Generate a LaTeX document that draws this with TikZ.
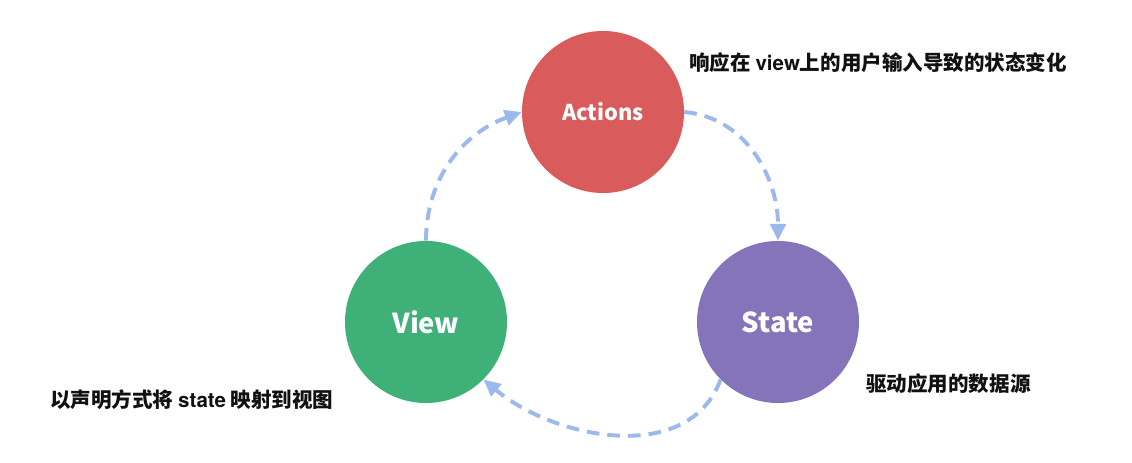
\documentclass[tikz,border=0pt]{standalone}
\usepackage{fontspec}
\setmainfont{Liberation Sans}
\newfontfamily\cjk{Noto Sans CJK SC}
\newfontfamily\arial{TeX Gyre Heros}
\usetikzlibrary{positioning,arrows.meta}
\definecolor{actred}{HTML}{D95B5C}
\definecolor{viewgreen}{HTML}{3EB078}
\definecolor{statepurple}{HTML}{8574BA}
\definecolor{flowblue}{HTML}{9CB9EE}
\definecolor{notetext}{HTML}{111111}

\begin{document}
\begin{tikzpicture}[x=0.025cm,y=0.025cm,
		circ/.style={circle,minimum size=4.05cm,inner sep=0pt,text=white,font=\cjk\bfseries},
		flow/.style={draw=flowblue,line width=2.8pt,dash pattern=on 9pt off 5.7pt,
			-{Triangle[length=12pt,width=11pt]}},
		note/.style={anchor=west,inner sep=0pt,text=notetext,font=\cjk\bfseries\fontsize{14.6}{16}\selectfont}
		]
		\useasboundingbox (0,0) rectangle (1132,462);
		% the three parts of the loop
		\node[circ,fill=actred,font=\cjk\bfseries\fontsize{15.5}{18}\selectfont] (actions) at (603,350) {Actions};
		\node[circ,fill=viewgreen,font=\cjk\bfseries\fontsize{19.5}{22}\selectfont] (view) at (426,140) {View};
		\node[circ,fill=statepurple,font=\cjk\bfseries\fontsize{19.5}{22}\selectfont] (state) at (778,140) {State};
		% notes
		\node[note] (actionsnote) at (689,399) {响应在 {\arial\bfseries view}上的用户输入导致的状态变化};
		\node[note] (statenote) at (866,78) {驱动应用的数据源};
		\node[note] (viewnote) at (50,62) {以声明方式将 {\arial\bfseries state} 映射到视图};
		% flow
		\draw[flow] (view.north) to[out=90,in=200] (actions.west);
		\draw[flow] (actions.east) to[out=-5,in=90] (state.north);
		\draw[flow] (state.225) to[out=-110,in=-40] (view.-45);
		\end{tikzpicture}
\end{document}
